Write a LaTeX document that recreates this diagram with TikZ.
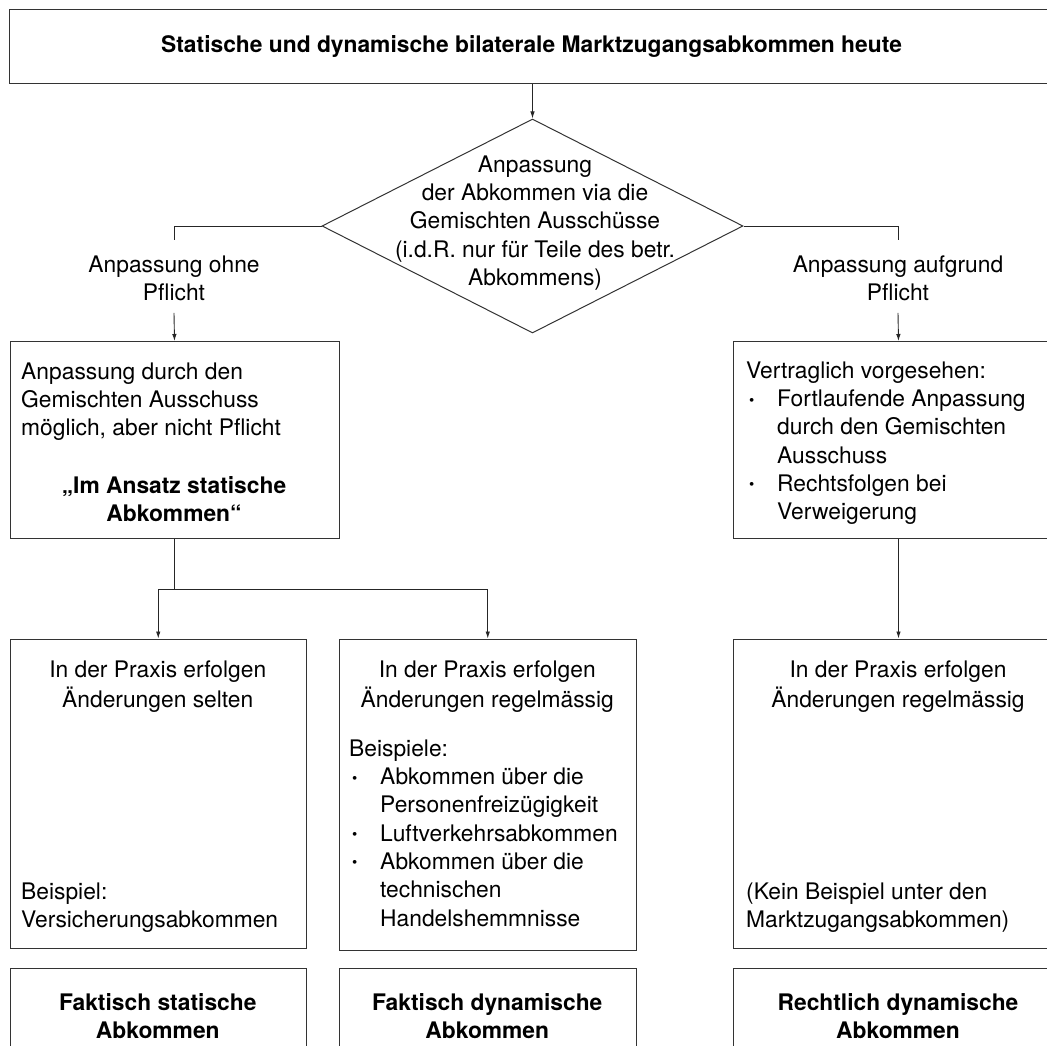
\documentclass[tikz,border=0pt]{standalone}
\usepackage{fontspec}
\setmainfont{TeX Gyre Heros}
\usetikzlibrary{arrows.meta,calc,shapes.geometric}
\newcommand{\bullit}{\makebox[31pt][l]{\hspace*{3pt}\raisebox{1.5pt}{\fontsize{15}{15}\selectfont\textbullet}}}
\newcommand{\bullin}{\hspace*{31pt}}

\begin{document}
\begin{tikzpicture}[x=1pt, y=-1pt,
	>={Latex[length=7pt,width=4.5pt]},
	box/.style={draw=black!80, line width=1pt, rectangle, anchor=north west, inner sep=0pt},
	decision/.style={draw=black!80, line width=1pt, diamond, inner sep=0pt},
	txt/.style={font=\fontsize{22.8}{28.3}\selectfont, inner sep=0pt, align=left, anchor=north west},
	ctxt/.style={txt, align=center, anchor=north},
	lbl/.style={ctxt, inner ysep=12pt},
	conn/.style={draw=black!85, line width=0.9pt}]

% frame %{{{2

	\useasboundingbox (0,0) rectangle (1047,1046);
	\clip (0,0) rectangle (1047,1046);

% boxes %{{{2

	\node[box, minimum width=1044pt, minimum height=74pt,
		font=\fontsize{22.8}{28.3}\selectfont\bfseries] (head) at (9,9)
		{Statische und dynamische bilaterale Marktzugangsabkommen heute};

	\node[decision, minimum width=421pt, minimum height=214pt] (adj) at (532.5,226) {};

	\node[box, minimum width=329pt, minimum height=197pt] (boxL) at (9.5,341) {};
	\node[box, minimum width=330pt, minimum height=197pt] (boxR) at (733,341) {};

	\node[box, minimum width=296.5pt, minimum height=309pt] (boxA) at (9.5,638.5) {};
	\node[box, minimum width=297.5pt, minimum height=311pt] (boxB) at (338.5,638.5) {};
	\node[box, minimum width=330pt, minimum height=309pt] (boxC) at (733,638.5) {};

	\node[box, minimum width=296.5pt, minimum height=150pt] (endA) at (9.5,968) {};
	\node[box, minimum width=297.5pt, minimum height=150pt] (endB) at (338.5,968) {};
	\node[box, minimum width=330pt, minimum height=150pt] (endC) at (733,968) {};

% texts %{{{2

	\node[ctxt] (adjtxt) at (535,152.2) {\strut Anpassung\\der Abkommen via die\\Gemischten Ausschüsse\\(i.d.R. nur für Teile des betr.\\Abkommens)};

	\node[lbl] (noduty) at (174,240) {\strut Anpassung ohne\\Pflicht};
	\node[lbl] (duty) at (898,240) {\strut Anpassung aufgrund\\Pflicht};

	\node[txt] (Ltxt) at (21,359.2) {\strut Anpassung durch den\\Gemischten Ausschuss\\möglich, aber nicht Pflicht};
	\node[ctxt, font=\fontsize{22.8}{28.3}\selectfont\bfseries] (Lbold) at (174,473.2) {\strut „Im Ansatz statische\\Abkommen“};

	\node[txt] (Rtxt) at (746,358.2) {\strut Vertraglich vorgesehen:\\\bullit Fortlaufende Anpassung\\\bullin durch den Gemischten\\\bullin Ausschuss\\\bullit Rechtsfolgen bei\\\bullin Verweigerung};

	\node[ctxt] (Atop) at (157.75,657.2) {\strut In der Praxis erfolgen\\Änderungen selten};
	\node[txt] (Abot) at (21,879.2) {\strut Beispiel:\\Versicherungsabkommen};

	\node[ctxt] (Btop) at (487.25,657.2) {\strut In der Praxis erfolgen\\Änderungen regelmässig};
	\node[txt] (Blist) at (349,736.2) {\strut Beispiele:\\\bullit Abkommen über die\\\bullin Personenfreizügigkeit\\\bullit Luftverkehrsabkommen\\\bullit Abkommen über die\\\bullin technischen\\\bullin Handelshemmnisse};

	\node[ctxt] (Ctop) at (898,657.2) {\strut In der Praxis erfolgen\\Änderungen regelmässig};
	\node[txt] (Cbot) at (746,879.2) {\strut (Kein Beispiel unter den\\Marktzugangsabkommen)};

	\node[ctxt, font=\fontsize{22.8}{28.3}\selectfont\bfseries] (endAtxt) at (157.75,990.2) {\strut Faktisch statische\\Abkommen};
	\node[ctxt, font=\fontsize{22.8}{28.3}\selectfont\bfseries] (endBtxt) at (487.25,990.2) {\strut Faktisch dynamische\\Abkommen};
	\node[ctxt, font=\fontsize{22.8}{28.3}\selectfont\bfseries] (endCtxt) at (898,990.2) {\strut Rechtlich dynamische\\Abkommen};

% connectors %{{{2

	\coordinate (fork) at ($(boxL.south)+(0,50)$);

	\draw[conn, ->] (adj.north |- head.south) -- (adj.north);
	\draw[conn] (adj.west) -| (noduty.north);
	\draw[conn] (adj.east) -| (duty.north);
	\draw[conn, ->] (noduty.south) -- (boxL.north);
	\draw[conn, ->] (duty.south) -- (boxR.north);

	\draw[conn] (boxL.south) -- (fork);
	\draw[conn, ->] (fork) -| (boxA.north);
	\draw[conn, ->] (fork) -| (boxB.north);
	\draw[conn, ->] (boxR.south) -- (boxC.north);

% closing %{{{2

\end{tikzpicture}
\end{document}
